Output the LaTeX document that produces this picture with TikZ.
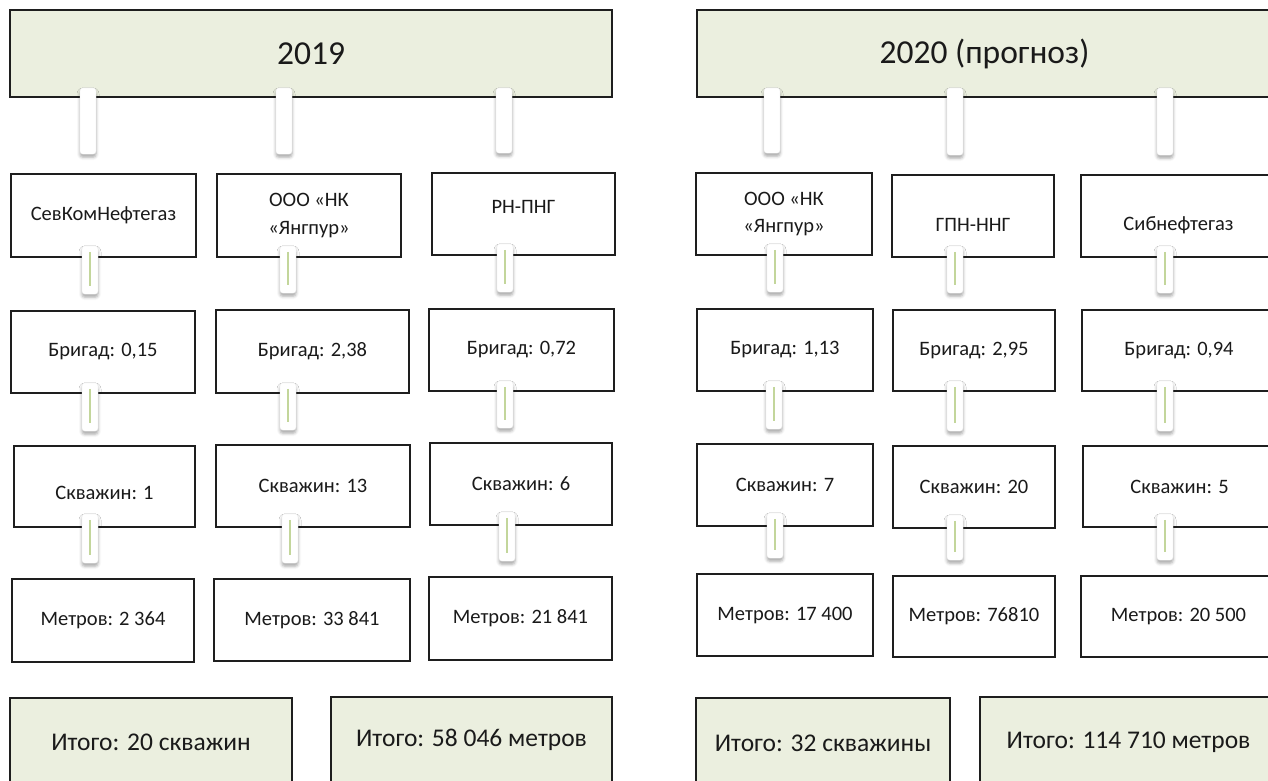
\documentclass[tikz,border=0pt]{standalone}
\usepackage{fontspec}
\setmainfont{Carlito}
\usetikzlibrary{fit,calc,shadows.blur}
\definecolor{hdr}{HTML}{EBEFDF}
\definecolor{edge}{HTML}{1E1E1E}
\definecolor{lgreen}{HTML}{C3D69B}
\definecolor{ink}{HTML}{1A1A1A}
\tikzset{
  box/.style={draw=edge, line width=1.6pt, fill=white, inner sep=0pt},
  sumbox/.style={box, fill=hdr},
  txt/.style={font=\fontsize{20.5}{26.5}\selectfont, text=ink, inner sep=0pt, align=center},
  hdrtxt/.style={txt, font=\fontsize{33.5}{40}\selectfont},
  sumtxt/.style={txt, font=\fontsize{25.5}{30}\selectfont},
  tabbox/.style={fill=white, draw=black!8, line width=0.4pt, rounded corners=3pt,
    blur shadow={shadow xshift=0pt, shadow yshift=-3pt, shadow blur radius=3pt, shadow opacity=35}},
  gline/.style={draw=lgreen, line width=1.1pt},
}
% box: style, name, corner1, corner2, dy, text, text style
\newcommand\bx[7]{%
  \node[#1, fit={(#3) (#4)}] (#2) {};
  \node[#7] (#2t) at ($(#2.center)+(0,#5)$) {#6};}
% connector tab: x, parent, child, top offset, bottom offset
\newcommand\tabc[5]{%
  \coordinate (tx) at (#1,0);
  \draw[tabbox] ($(tx |- #2.south)+(-8,-#4)$) rectangle ($(tx |- #3.north)+(8,-#5)$);}
\newcommand\tabg[5]{%
  \tabc{#1}{#2}{#3}{#4}{#5}%
  \draw[gline] ($(tx |- #2.south)+(0,-#4+6)$) -- ($(tx |- #3.north)+(0,-#5-8)$);}
\begin{document}
\begin{tikzpicture}[x=1pt,y=-1pt]
\useasboundingbox (0,0) rectangle (1268,780);
\clip (0,0) rectangle (1268,780);
% ---------- 2019 ----------
\bx{sumbox}{hl}{10,10}{612,97}{0}{2019}{hdrtxt}
\bx{box}{a1}{11,174}{196,257}{0}{СевКомНефтегаз}{txt}
\bx{box}{a2}{217,174}{401,257}{0}{ООО «НК\\[1pt]«Янгпур»}{txt}
\bx{box}{a3}{432,173}{615,255}{-7}{РН-ПНГ}{txt}
\bx{box}{b1}{11,311}{195,393}{0}{Бригад: 0,15}{txt}
\bx{box}{b2}{216,310}{409,393}{0}{Бригад: 2,38}{txt}
\bx{box}{b3}{429,309}{614,391}{0}{Бригад: 0,72}{txt}
\bx{box}{c1}{14,446}{195,527}{6}{Скважин: 1}{txt}
\bx{box}{c2}{216,445}{410,527}{0}{Скважин: 13}{txt}
\bx{box}{c3}{430,443}{612,525}{0}{Скважин: 6}{txt}
\bx{box}{d1}{12,579}{194,662}{0}{Метров: 2 364}{txt}
\bx{box}{d2}{214,579}{410,661}{0}{Метров: 33 841}{txt}
\bx{box}{d3}{429,577}{612,660}{0}{Метров: 21 841}{txt}
\bx{sumbox}{e1}{10,698}{292,786}{0}{Итого: 20 скважин}{sumtxt}
\bx{sumbox}{e2}{331,697}{612,783}{0}{Итого: 58 046 метров}{sumtxt}
% ---------- 2020 ----------
\bx{sumbox}{hr}{697,10}{1272,97}{0}{2020 (прогноз)}{hdrtxt}
\bx{box}{f1}{696,173}{872,255}{0}{ООО «НК\\«Янгпур»}{txt}
\bx{box}{f2}{892,175}{1054,257}{9}{ГПН-ННГ}{txt}
\bx{box}{f3}{1081,175}{1276,257}{9}{Сибнефтегаз}{txt}
\bx{box}{g1}{697,309}{873,391}{0}{Бригад: 1,13}{txt}
\bx{box}{g2}{893,310}{1055,391}{0}{Бригад: 2,95}{txt}
\bx{box}{g3}{1082,310}{1276,391}{0}{Бригад: 0,94}{txt}
\bx{box}{h1}{697,444}{873,526}{0}{Скважин: 7}{txt}
\bx{box}{h2}{893,446}{1055,528}{0}{Скважин: 20}{txt}
\bx{box}{h3}{1083,446}{1276,527}{0}{Скважин: 5}{txt}
\bx{box}{i1}{697,574}{873,656}{0}{Метров: 17 400}{txt}
\bx{box}{i2}{893,576}{1055,657}{0}{Метров: 76810}{txt}
\bx{box}{i3}{1081,576}{1276,657}{0}{Метров: 20 500}{txt}
\bx{sumbox}{j1}{696,698}{950,788}{0}{Итого: 32 скважины}{sumtxt}
\bx{sumbox}{j2}{980,697}{1277,787}{0}{Итого: 114 710 метров}{sumtxt}
% ---------- connectors ----------
\tabc{88}{hl}{a1}{10}{19}
\tabc{284}{hl}{a2}{10}{19}
\tabc{504}{hl}{a3}{10}{19}
\tabc{772}{hr}{f1}{10}{19}
\tabc{955}{hr}{f2}{10}{19}
\tabc{1165}{hr}{f3}{10}{19}
\tabg{90}{a1}{b1}{12}{16}
\tabg{288}{a2}{b2}{12}{16}
\tabg{505}{a3}{b3}{12}{16}
\tabg{775}{f1}{g1}{12}{16}
\tabg{955}{f2}{g2}{12}{16}
\tabg{1165}{f3}{g3}{12}{16}
\tabg{90}{b1}{c1}{11}{14}
\tabg{288}{b2}{c2}{11}{14}
\tabg{505}{b3}{c3}{11}{14}
\tabg{774}{g1}{h1}{11}{14}
\tabg{955}{g2}{h2}{11}{14}
\tabg{1165}{g3}{h3}{11}{14}
\tabg{90}{c1}{d1}{14}{15}
\tabg{290}{c2}{d2}{14}{15}
\tabg{507}{c3}{d3}{14}{15}
\tabg{775}{h1}{i1}{14}{15}
\tabg{955}{h2}{i2}{14}{15}
\tabg{1165}{h3}{i3}{14}{15}
\end{tikzpicture}
\end{document}
